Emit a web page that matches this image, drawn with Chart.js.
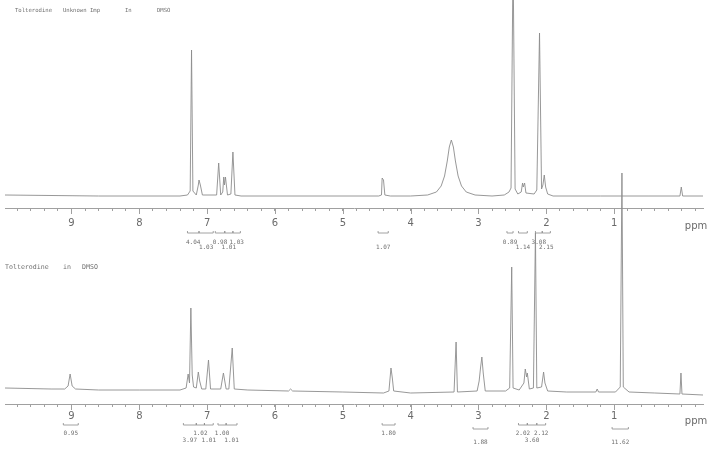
<!DOCTYPE html>
<html>
<head>
<meta charset="utf-8">
<script src="https://cdn.jsdelivr.net/npm/chart.js@4.4.1/dist/chart.umd.min.js"></script>
<style>
  html, body { margin: 0; background: #fff; }
  #wrap { position: relative; width: 712px; height: 451px; overflow: hidden; background: #fff; }
  canvas { position: absolute; left: 0; top: 0; }
  .title { position: absolute; font-family: "DejaVu Sans Mono", monospace; color: #707070; white-space: pre; }
</style>
</head>
<body>
<div id="wrap">
  <canvas id="upper" width="712" height="260"></canvas>
  <canvas id="lower" width="712" height="451"></canvas>
  <div class="title" style="left:15px;top:7px;font-size:5.6px">Tolterodine</div>
  <div class="title" style="left:63px;top:7px;font-size:5.6px">Unknown Imp</div>
  <div class="title" style="left:125px;top:7px;font-size:5.6px">In</div>
  <div class="title" style="left:157px;top:7px;font-size:5.6px">DMSO</div>
  <div class="title" style="left:5px;top:263px;font-size:6.6px">Tolterodine</div>
  <div class="title" style="left:63px;top:263px;font-size:6.6px">in</div>
  <div class="title" style="left:82px;top:263px;font-size:6.6px">DMSO</div>
</div>
<script>
// ppm axis
const ppmMin = -0.31;
const ppmMax = 9.98;
const ppmLabels = [1, 2, 3, 4, 5, 6, 7, 8, 9];

// upper trace: Tolterodine Unknown Imp (intensity)
const upperPpm = [9.98, 8.60, 7.40, 7.29, 7.25, 7.23, 7.21, 7.16, 7.13, 7.12, 7.10, 7.07,
  6.86, 6.83, 6.80, 6.77, 6.755, 6.745, 6.73, 6.70, 6.65, 6.62, 6.59, 6.50,
  4.47, 4.43, 4.42, 4.40, 4.38, 4.30, 4.00, 3.75, 3.62, 3.55, 3.50, 3.46, 3.43, 3.40,
  3.37, 3.34, 3.30, 3.25, 3.18, 3.05, 2.80, 2.62, 2.55, 2.52, 2.49, 2.46, 2.42, 2.37,
  2.35, 2.34, 2.32, 2.30, 2.18, 2.14, 2.10, 2.07, 2.05, 2.03, 2.01, 1.98, 1.90, 1.20,
  0.50, 0.03, 0.01, -0.01, -0.31];
const upperInt = [2, 1, 1, 2, 6, 147, 6, 2, 12, 17, 12, 2,
  2, 34, 2, 5, 20, 12, 20, 2, 3, 45, 2, 1,
  1, 2, 19, 17, 2, 1, 1, 2, 5, 11, 21, 36, 50, 57,
  50, 36, 21, 11, 5, 2, 1, 2, 5, 9, 240, 8, 3, 5,
  14, 10, 14, 4, 3, 7, 164, 8, 12, 22, 10, 3, 1, 1,
  1, 1, 10, 1, 1];

// lower trace: Tolterodine
const lowerPpm = [9.98, 9.30, 9.10, 9.05, 9.02, 8.99, 8.94, 8.60, 8.00, 7.40, 7.31, 7.28,
  7.26, 7.24, 7.22, 7.20, 7.16, 7.13, 7.11, 7.08, 7.02, 6.98, 6.95, 6.80, 6.76, 6.74,
  6.72, 6.68, 6.63, 6.60, 6.40, 5.80, 5.77, 5.74, 5.00, 4.40, 4.32, 4.29, 4.27, 4.25,
  4.00, 3.36, 3.33, 3.31, 3.02, 2.99, 2.97, 2.95, 2.93, 2.90, 2.60, 2.54, 2.51, 2.49,
  2.40, 2.33, 2.31, 2.29, 2.28, 2.25, 2.19, 2.16, 2.14, 2.07, 2.04, 2.02, 1.98, 1.70,
  1.27, 1.25, 1.23, 0.98, 0.91, 0.885, 0.865, 0.78, 0.40, 0.03, 0.015, 0.00, -0.31];
const lowerInt = [5, 4, 4, 7, 19, 7, 4, 3, 3, 3, 5, 19,
  10, 85, 18, 6, 5, 21, 12, 4, 4, 33, 4, 4, 20, 12,
  4, 4, 45, 4, 3, 2, 4, 2, 1, 0, 2, 25, 15, 2,
  0, 1, 51, 1, 2, 12, 25, 36, 20, 2, 2, 5, 126, 5,
  3, 10, 24, 16, 20, 4, 5, 160, 5, 6, 21, 10, 2, 1,
  1, 4, 1, 1, 6, 220, 6, 1, 0, -1, 20, -1, -2];

// integrals
const upperIntFrom = [7.29, 7.12, 6.88, 6.74, 6.62, 4.48, 2.58, 2.41, 2.16, 2.06];
const upperIntTo = [7.12, 6.91, 6.74, 6.62, 6.51, 4.33, 2.49, 2.28, 2.06, 1.94];
const upperIntValue = ["4.04", "1.03", "0.98", "1.01", "1.03", "1.07", "0.89", "1.14", "3.08", "2.15"];
const upperIntRow = [0, 1, 0, 1, 0, 1, 0, 1, 0, 1];

const lowerIntFrom = [9.12, 7.35, 7.16, 7.04, 6.84, 6.72, 4.42, 3.08, 2.41, 2.28, 2.14, 1.03];
const lowerIntTo = [8.90, 7.16, 7.04, 6.91, 6.72, 6.56, 4.23, 2.86, 2.28, 2.14, 2.01, 0.79];
const lowerIntValue = ["0.95", "3.97", "1.02", "1.01", "1.00", "1.01", "1.80", "1.88", "2.02", "3.60", "2.12", "11.62"];
const lowerIntRow = [0, 1, 0, 1, 0, 1, 0, 2, 0, 1, 0, 2];

const axisGray = "#a0a0a0";
const traceGray = "#8c8c8c";

function isLabel(v) {
  const r = Math.round(v);
  return Math.abs(v - r) < 0.01 && ppmLabels.includes(r);
}

const axisExtras = {
  id: "axisExtras",
  afterDraw(chart, args, opts) {
    const x = chart.scales.x, ctx = chart.ctx, base = chart.chartArea.bottom;
    ctx.save();
    ctx.strokeStyle = axisGray;
    ctx.lineWidth = 1;
    x.ticks.forEach((t) => {
      if (!isLabel(t.value)) return;
      const px = Math.round(x.getPixelForValue(t.value)) + 0.5;
      ctx.beginPath(); ctx.moveTo(px, base); ctx.lineTo(px, base + 6); ctx.stroke();
    });
    ctx.fillStyle = "#6a6a6a";
    ctx.font = '10px "DejaVu Sans"';
    ctx.textAlign = "center";
    ctx.textBaseline = "middle";
    ctx.fillText("ppm", 696, base + opts.ppmY);

    ctx.strokeStyle = "#8a8a8a";
    ctx.lineWidth = 0.8;
    ctx.font = '6px "DejaVu Sans Mono"';
    ctx.fillStyle = "#6e6e6e";
    opts.from.forEach((f, i) => {
      const x1 = x.getPixelForValue(f), x2 = x.getPixelForValue(opts.to[i]);
      const row = opts.row[i];
      const by = base + opts.bracketY[row];
      ctx.beginPath();
      ctx.moveTo(x1, by - 2); ctx.lineTo(x1, by); ctx.lineTo(x2, by); ctx.lineTo(x2, by - 2);
      ctx.stroke();
      ctx.fillText(opts.value[i], (x1 + x2) / 2, base + opts.textY[row]);
    });
    ctx.restore();
  }
};

function makeChart(id, ppm, ints, yMin, yMax, tickPad, padBottom, integrals) {
  return new Chart(document.getElementById(id), {
    type: "line",
    data: {
      datasets: [{
        data: ppm.map((p, i) => ({ x: p, y: ints[i] })),
        borderColor: traceGray,
        borderWidth: 0.9,
        pointRadius: 0,
        tension: 0,
        fill: false
      }]
    },
    options: {
      responsive: false,
      animation: false,
      events: [],
      layout: { padding: { left: 5, right: 9, top: 0, bottom: padBottom } },
      plugins: { legend: { display: false }, tooltip: { enabled: false }, axisExtras: integrals },
      scales: {
        x: {
          type: "linear",
          reverse: true,
          min: ppmMin,
          max: ppmMax,
          afterFit: (scale) => { scale.height = 30; },
          grid: { drawOnChartArea: false, drawTicks: true, tickLength: 3, tickColor: axisGray },
          border: { display: true, color: axisGray, width: 1 },
          ticks: {
            stepSize: 0.2,
            includeBounds: false,
            autoSkip: false,
            maxRotation: 0,
            padding: tickPad,
            color: "#6a6a6a",
            font: { family: "DejaVu Sans", size: 10 },
            callback: (v) => (isLabel(v) ? String(Math.round(v)) : "")
          }
        },
        y: { display: false, min: yMin, max: yMax }
      }
    },
    plugins: [axisExtras]
  });
}

makeChart("upper", upperPpm, upperInt, -11, 197, 6, 22, {
  from: upperIntFrom, to: upperIntTo, value: upperIntValue, row: upperIntRow,
  bracketY: [25, 25], textY: [34, 39], ppmY: 18
});
makeChart("lower", lowerPpm, lowerInt, -11, 393, 3, 17, {
  from: lowerIntFrom, to: lowerIntTo, value: lowerIntValue, row: lowerIntRow,
  bracketY: [21, 21, 25], textY: [29, 36, 38], ppmY: 17
});
</script>
</body>
</html>
